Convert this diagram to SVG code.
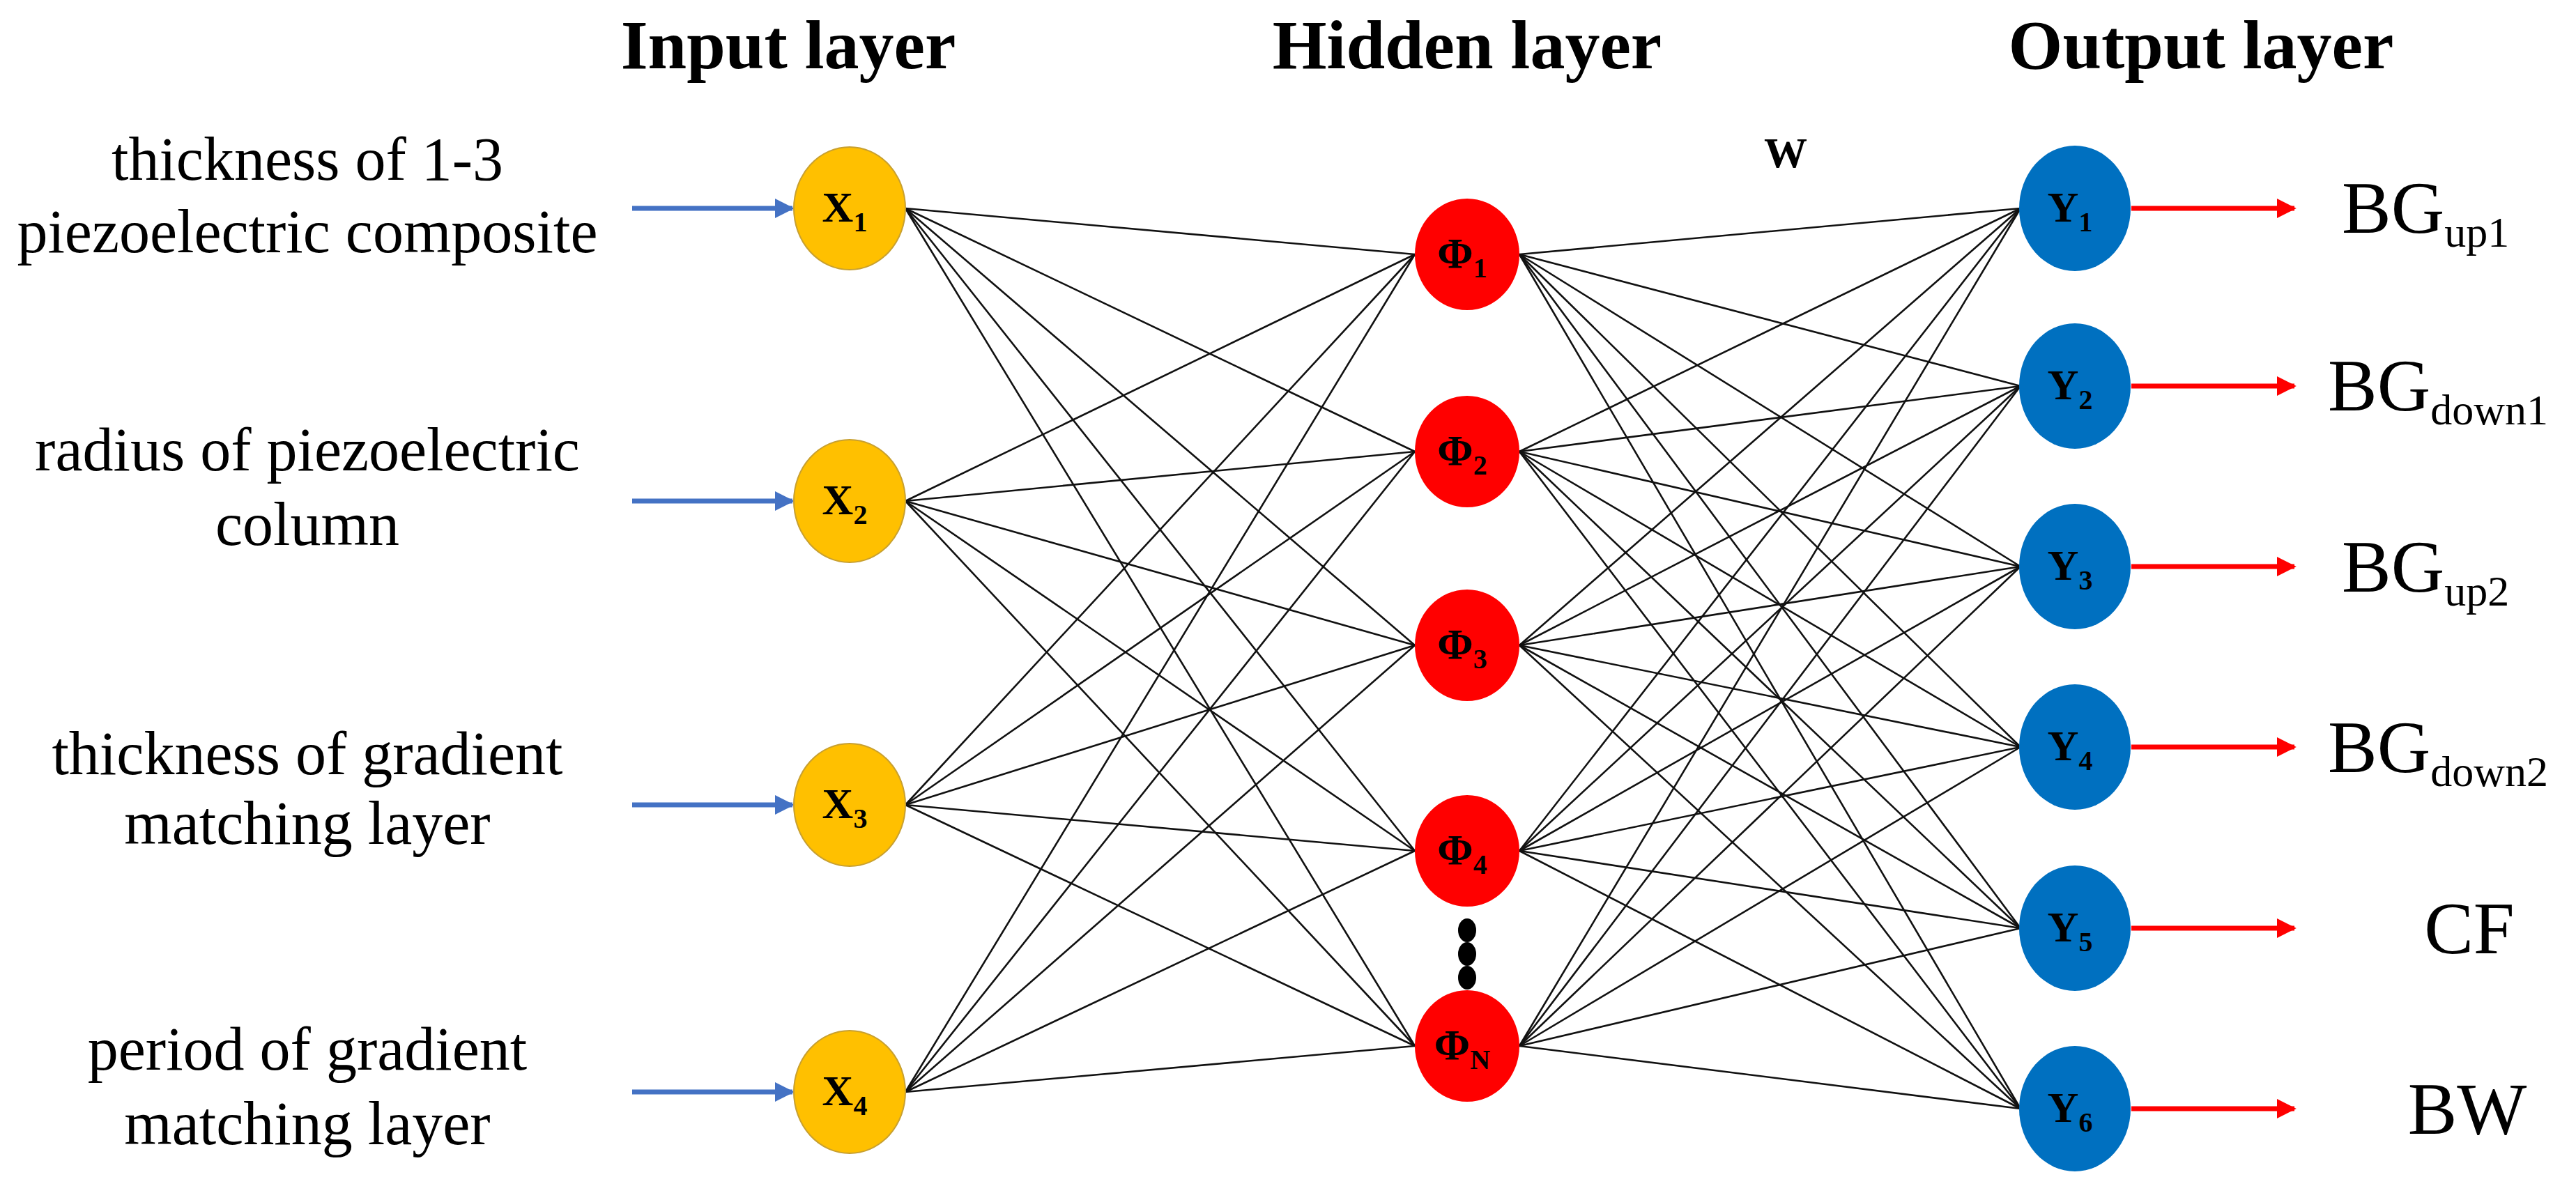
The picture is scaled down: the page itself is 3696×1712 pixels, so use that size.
<svg xmlns="http://www.w3.org/2000/svg" width="3696" height="1712" viewBox="0 0 3696 1712">
<style>
text{font-family:"Liberation Serif","Times New Roman",serif;fill:#000}
.t{font-size:100px;font-weight:bold;text-anchor:middle}
.l{font-size:88px;text-anchor:middle}
.n{font-size:62px;font-weight:bold;text-anchor:middle}
.o{font-size:106px}
.c line{stroke:#111;stroke-width:2.6}
.c line.bl{stroke:#4472C4;stroke-width:7}
.c line.rd{stroke:#FF0000;stroke-width:7}
.x{fill:#FFC000;stroke:#C8A030;stroke-width:2}
.h{fill:#FF0000}
.y{fill:#0070C0}
</style>
<defs>
<marker id="ab" viewBox="0 0 10 10" refX="9" refY="5" markerWidth="4" markerHeight="4" orient="auto"><path d="M0,0L10,5L0,10z" fill="#4472C4"/></marker>
<marker id="ar" viewBox="0 0 10 10" refX="9" refY="5" markerWidth="4" markerHeight="4" orient="auto"><path d="M0,0L10,5L0,10z" fill="#FF0000"/></marker>
</defs>
<rect width="3696" height="1712" fill="#fff"/>
<text class="t" x="1131" y="98">Input layer</text>
<text class="t" x="2105" y="98">Hidden layer</text>
<text class="t" x="3158" y="98">Output layer</text>
<text x="2562" y="240" font-size="62" font-weight="bold" text-anchor="middle">W</text>
<g id="labels-in">
<text class="l" x="441" y="258">thickness of 1-3</text>
<text class="l" x="441" y="362">piezoelectric composite</text>
<text class="l" x="441" y="675">radius of piezoelectric</text>
<text class="l" x="441" y="782">column</text>
<text class="l" x="441" y="1111">thickness of gradient</text>
<text class="l" x="441" y="1211">matching layer</text>
<text class="l" x="441" y="1535">period of gradient</text>
<text class="l" x="441" y="1642">matching layer</text>
</g>
<g id="connectors" class="c">
<g id="xh">
<line x1="1299" y1="299" x2="2030" y2="365"/><line x1="1299" y1="299" x2="2030" y2="648"/><line x1="1299" y1="299" x2="2030" y2="926"/><line x1="1299" y1="299" x2="2030" y2="1221"/><line x1="1299" y1="299" x2="2030" y2="1501"/>
<line x1="1299" y1="719" x2="2030" y2="365"/><line x1="1299" y1="719" x2="2030" y2="648"/><line x1="1299" y1="719" x2="2030" y2="926"/><line x1="1299" y1="719" x2="2030" y2="1221"/><line x1="1299" y1="719" x2="2030" y2="1501"/>
<line x1="1299" y1="1155" x2="2030" y2="365"/><line x1="1299" y1="1155" x2="2030" y2="648"/><line x1="1299" y1="1155" x2="2030" y2="926"/><line x1="1299" y1="1155" x2="2030" y2="1221"/><line x1="1299" y1="1155" x2="2030" y2="1501"/>
<line x1="1299" y1="1567" x2="2030" y2="365"/><line x1="1299" y1="1567" x2="2030" y2="648"/><line x1="1299" y1="1567" x2="2030" y2="926"/><line x1="1299" y1="1567" x2="2030" y2="1221"/><line x1="1299" y1="1567" x2="2030" y2="1501"/>
</g>
<g id="hy">
<line x1="2180" y1="365" x2="2899" y2="299"/><line x1="2180" y1="365" x2="2899" y2="554"/><line x1="2180" y1="365" x2="2899" y2="813"/><line x1="2180" y1="365" x2="2899" y2="1072"/><line x1="2180" y1="365" x2="2899" y2="1332"/><line x1="2180" y1="365" x2="2899" y2="1591"/>
<line x1="2180" y1="648" x2="2899" y2="299"/><line x1="2180" y1="648" x2="2899" y2="554"/><line x1="2180" y1="648" x2="2899" y2="813"/><line x1="2180" y1="648" x2="2899" y2="1072"/><line x1="2180" y1="648" x2="2899" y2="1332"/><line x1="2180" y1="648" x2="2899" y2="1591"/>
<line x1="2180" y1="926" x2="2899" y2="299"/><line x1="2180" y1="926" x2="2899" y2="554"/><line x1="2180" y1="926" x2="2899" y2="813"/><line x1="2180" y1="926" x2="2899" y2="1072"/><line x1="2180" y1="926" x2="2899" y2="1332"/><line x1="2180" y1="926" x2="2899" y2="1591"/>
<line x1="2180" y1="1221" x2="2899" y2="299"/><line x1="2180" y1="1221" x2="2899" y2="554"/><line x1="2180" y1="1221" x2="2899" y2="813"/><line x1="2180" y1="1221" x2="2899" y2="1072"/><line x1="2180" y1="1221" x2="2899" y2="1332"/><line x1="2180" y1="1221" x2="2899" y2="1591"/>
<line x1="2180" y1="1501" x2="2899" y2="299"/><line x1="2180" y1="1501" x2="2899" y2="554"/><line x1="2180" y1="1501" x2="2899" y2="813"/><line x1="2180" y1="1501" x2="2899" y2="1072"/><line x1="2180" y1="1501" x2="2899" y2="1332"/><line x1="2180" y1="1501" x2="2899" y2="1591"/>
</g>
<g id="in-arrows">
<line class="bl" x1="907" y1="299" x2="1137" y2="299" marker-end="url(#ab)"/>
<line class="bl" x1="907" y1="719" x2="1137" y2="719" marker-end="url(#ab)"/>
<line class="bl" x1="907" y1="1155" x2="1137" y2="1155" marker-end="url(#ab)"/>
<line class="bl" x1="907" y1="1567" x2="1137" y2="1567" marker-end="url(#ab)"/>
</g>
<g id="out-arrows">
<line class="rd" x1="3058" y1="299" x2="3292" y2="299" marker-end="url(#ar)"/>
<line class="rd" x1="3058" y1="554" x2="3292" y2="554" marker-end="url(#ar)"/>
<line class="rd" x1="3058" y1="813" x2="3292" y2="813" marker-end="url(#ar)"/>
<line class="rd" x1="3058" y1="1072" x2="3292" y2="1072" marker-end="url(#ar)"/>
<line class="rd" x1="3058" y1="1332" x2="3292" y2="1332" marker-end="url(#ar)"/>
<line class="rd" x1="3058" y1="1591" x2="3292" y2="1591" marker-end="url(#ar)"/>
</g>
</g>
<g id="x1"><ellipse class="x" cx="1219" cy="299" rx="80" ry="88"/><text class="n" x="1212" y="318">X<tspan font-size="40" dy="14">1</tspan></text></g>
<g id="x2"><ellipse class="x" cx="1219" cy="719" rx="80" ry="88"/><text class="n" x="1212" y="738">X<tspan font-size="40" dy="14">2</tspan></text></g>
<g id="x3"><ellipse class="x" cx="1219" cy="1155" rx="80" ry="88"/><text class="n" x="1212" y="1174">X<tspan font-size="40" dy="14">3</tspan></text></g>
<g id="x4"><ellipse class="x" cx="1219" cy="1567" rx="80" ry="88"/><text class="n" x="1212" y="1586">X<tspan font-size="40" dy="14">4</tspan></text></g>
<g id="h1"><ellipse class="h" cx="2105" cy="365" rx="75" ry="80"/><text class="n" x="2098" y="384">Φ<tspan font-size="40" dy="14">1</tspan></text></g>
<g id="h2"><ellipse class="h" cx="2105" cy="648" rx="75" ry="80"/><text class="n" x="2098" y="667">Φ<tspan font-size="40" dy="14">2</tspan></text></g>
<g id="h3"><ellipse class="h" cx="2105" cy="926" rx="75" ry="80"/><text class="n" x="2098" y="945">Φ<tspan font-size="40" dy="14">3</tspan></text></g>
<g id="h4"><ellipse class="h" cx="2105" cy="1221" rx="75" ry="80"/><text class="n" x="2098" y="1240">Φ<tspan font-size="40" dy="14">4</tspan></text></g>
<g id="dots"><ellipse cx="2105" cy="1335" rx="13" ry="17"/><ellipse cx="2105" cy="1369" rx="13" ry="17"/><ellipse cx="2105" cy="1403" rx="13" ry="17"/></g>
<g id="hN"><ellipse class="h" cx="2105" cy="1501" rx="75" ry="80"/><text class="n" x="2098" y="1520">Φ<tspan font-size="40" dy="14">N</tspan></text></g>
<g id="y1"><ellipse class="y" cx="2977" cy="299" rx="80" ry="90"/><text class="n" x="2970" y="318">Y<tspan font-size="40" dy="14">1</tspan></text></g>
<g id="y2"><ellipse class="y" cx="2977" cy="554" rx="80" ry="90"/><text class="n" x="2970" y="573">Y<tspan font-size="40" dy="14">2</tspan></text></g>
<g id="y3"><ellipse class="y" cx="2977" cy="813" rx="80" ry="90"/><text class="n" x="2970" y="832">Y<tspan font-size="40" dy="14">3</tspan></text></g>
<g id="y4"><ellipse class="y" cx="2977" cy="1072" rx="80" ry="90"/><text class="n" x="2970" y="1091">Y<tspan font-size="40" dy="14">4</tspan></text></g>
<g id="y5"><ellipse class="y" cx="2977" cy="1332" rx="80" ry="90"/><text class="n" x="2970" y="1351">Y<tspan font-size="40" dy="14">5</tspan></text></g>
<g id="y6"><ellipse class="y" cx="2977" cy="1591" rx="80" ry="90"/><text class="n" x="2970" y="1610">Y<tspan font-size="40" dy="14">6</tspan></text></g>
<g id="labels-out">
<text class="o" x="3360" y="334">BG<tspan font-size="62" dy="20">up1</tspan></text>
<text class="o" x="3340" y="589">BG<tspan font-size="62" dy="20">down1</tspan></text>
<text class="o" x="3360" y="849">BG<tspan font-size="62" dy="20">up2</tspan></text>
<text class="o" x="3340" y="1108">BG<tspan font-size="62" dy="20">down2</tspan></text>
<text class="o" x="3543" y="1368" text-anchor="middle">CF</text>
<text class="o" x="3540" y="1627" text-anchor="middle">BW</text>
</g>
</svg>
